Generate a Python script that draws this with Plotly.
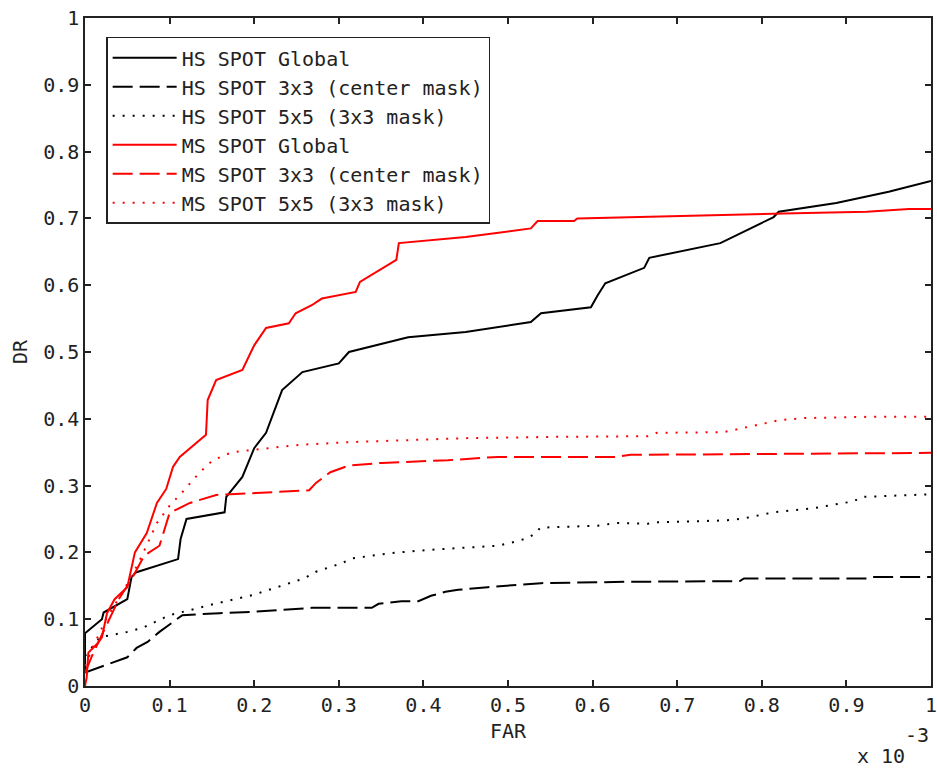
import plotly.graph_objects as go

# FAR is given in units of 1e-3, DR is a fraction.
hs_global_far = [0, 0, 0.02, 0.022, 0.05, 0.055, 0.06, 0.08, 0.11, 0.113, 0.12, 0.165, 0.167,
                 0.186, 0.2, 0.214, 0.233, 0.257, 0.3, 0.312, 0.382, 0.45, 0.527, 0.539, 0.598,
                 0.606, 0.615, 0.661, 0.667, 0.751, 0.814, 0.82, 0.888, 0.95, 1.0]
hs_global_dr = [0.02, 0.079, 0.1, 0.11, 0.13, 0.163, 0.17, 0.178, 0.19, 0.22, 0.25, 0.26, 0.283,
                0.313, 0.356, 0.379, 0.443, 0.47, 0.483, 0.5, 0.522, 0.53, 0.545, 0.558, 0.567,
                0.585, 0.603, 0.626, 0.641, 0.663, 0.702, 0.71, 0.723, 0.74, 0.756]

hs_3x3_far = [0, 0.03, 0.05, 0.061, 0.074, 0.088, 0.104, 0.115, 0.159, 0.198, 0.268, 0.339,
              0.347, 0.374, 0.394, 0.409, 0.426, 0.441, 0.476, 0.508, 0.539, 0.641, 0.774,
              0.779, 0.924, 0.927, 1.0]
hs_3x3_dr = [0.02, 0.034, 0.043, 0.057, 0.066, 0.081, 0.096, 0.106, 0.109, 0.111, 0.117, 0.117,
             0.123, 0.127, 0.127, 0.135, 0.141, 0.144, 0.148, 0.151, 0.154, 0.156, 0.157,
             0.161, 0.161, 0.163, 0.163]

hs_5x5_far = [0, 0.018, 0.05, 0.068, 0.1, 0.147, 0.198, 0.259, 0.273, 0.304, 0.315, 0.362,
              0.409, 0.455, 0.488, 0.512, 0.524, 0.533, 0.538, 0.606, 0.629, 0.665, 0.676,
              0.759, 0.779, 0.814, 0.861, 0.896, 0.908, 0.918, 1.0]
hs_5x5_dr = [0.045, 0.073, 0.081, 0.087, 0.106, 0.121, 0.136, 0.161, 0.171, 0.184, 0.191, 0.199,
             0.204, 0.208, 0.21, 0.217, 0.222, 0.229, 0.237, 0.24, 0.244, 0.243, 0.245,
             0.248, 0.251, 0.26, 0.266, 0.274, 0.276, 0.283, 0.287]

ms_global_far = [0, 0.002, 0.004, 0.015, 0.02, 0.026, 0.035, 0.05, 0.059, 0.073, 0.085, 0.096,
                 0.104, 0.112, 0.143, 0.145, 0.155, 0.186, 0.2, 0.214, 0.241, 0.249, 0.268,
                 0.28, 0.32, 0.325, 0.368, 0.371, 0.45, 0.527, 0.535, 0.578, 0.582, 0.673,
                 0.762, 0.853, 0.924, 0.974, 1.0]
ms_global_dr = [0.0, 0.013, 0.05, 0.064, 0.073, 0.109, 0.13, 0.148, 0.2, 0.229, 0.274, 0.295,
                0.328, 0.343, 0.376, 0.428, 0.458, 0.473, 0.51, 0.536, 0.543, 0.558, 0.57,
                0.58, 0.59, 0.605, 0.638, 0.663, 0.672, 0.685, 0.696, 0.696, 0.7, 0.703,
                0.705, 0.708, 0.71, 0.714, 0.714]

ms_3x3_far = [0, 0.01, 0.025, 0.04, 0.055, 0.07, 0.088, 0.1, 0.124, 0.155, 0.202, 0.253, 0.265,
              0.273, 0.29, 0.312, 0.351, 0.429, 0.488, 0.626, 0.645, 1.0]
ms_3x3_dr = [0.02, 0.05, 0.09, 0.13, 0.16, 0.195, 0.21, 0.259, 0.274, 0.286, 0.289, 0.293, 0.293,
             0.304, 0.32, 0.33, 0.334, 0.338, 0.343, 0.343, 0.346, 0.349]

ms_5x5_far = [0, 0.01, 0.025, 0.041, 0.053, 0.065, 0.085, 0.1, 0.115, 0.135, 0.151, 0.174,
              0.214, 0.253, 0.312, 0.449, 0.559, 0.665, 0.676, 0.755, 0.821, 0.849, 0.927, 1.0]
ms_5x5_dr = [0.03, 0.06, 0.1, 0.133, 0.159, 0.189, 0.244, 0.27, 0.29, 0.319, 0.338, 0.35,
             0.356, 0.361, 0.365, 0.371, 0.373, 0.374, 0.379, 0.38, 0.398, 0.401, 0.403, 0.403]

tick_vals = [i / 10 for i in range(11)]
tick_text = ["0", "0.1", "0.2", "0.3", "0.4", "0.5", "0.6", "0.7", "0.8", "0.9", "1"]

FONT = "DejaVu Sans Mono"
INK = "#222"
DASH = "20px,7px"
DOT = "2px,8px"

series = [
    ("HS SPOT Global", hs_global_far, hs_global_dr, "black", "solid"),
    ("HS SPOT 3x3 (center mask)", hs_3x3_far, hs_3x3_dr, "black", DASH),
    ("HS SPOT 5x5 (3x3 mask)", hs_5x5_far, hs_5x5_dr, "black", DOT),
    ("MS SPOT Global", ms_global_far, ms_global_dr, "red", "solid"),
    ("MS SPOT 3x3 (center mask)", ms_3x3_far, ms_3x3_dr, "red", DASH),
    ("MS SPOT 5x5 (3x3 mask)", ms_5x5_far, ms_5x5_dr, "red", DOT),
]

fig = go.Figure()
for name, xs, ys, color, dash in series:
    fig.add_trace(go.Scatter(x=xs, y=ys, name=name, mode="lines",
                             line=dict(color=color, width=2, dash=dash)))

axis_common = dict(
    range=[0, 1], tickvals=tick_vals, ticktext=tick_text,
    ticks="inside", ticklen=6, tickwidth=1.5, tickcolor=INK,
    showline=True, linecolor=INK, linewidth=1.5, mirror="ticks",
    showgrid=False, zeroline=False, ticklabeloverflow="allow",
    automargin=False,
    tickfont=dict(family=FONT, size=20, color=INK),
)

fig.update_layout(
    width=937, height=768,
    margin=dict(l=85, r=6, t=18, b=82, autoexpand=False),
    paper_bgcolor="white", plot_bgcolor="white",
    font=dict(family=FONT, size=20, color=INK),
    xaxis=dict(**axis_common, title=dict(text="FAR", standoff=8,
                                         font=dict(family=FONT, size=20))),
    yaxis=dict(**axis_common, title=dict(text="DR", standoff=10,
                                         font=dict(family=FONT, size=20))),
    legend=dict(x=0.025, y=0.972, xanchor="left", yanchor="top",
                bgcolor="white", bordercolor=INK, borderwidth=1.5,
                font=dict(family=FONT, size=20, color=INK),
                itemwidth=64, tracegroupgap=0),
    showlegend=True,
)

# exponent of the FAR axis
fig.add_annotation(xref="paper", yref="paper", x=0.972, y=-0.105, xanchor="right",
                   yanchor="middle", text="x 10", showarrow=False,
                   font=dict(family=FONT, size=20, color=INK))
fig.add_annotation(xref="paper", yref="paper", x=1.0, y=-0.073, xanchor="right",
                   yanchor="middle", text="-3", showarrow=False,
                   font=dict(family=FONT, size=20, color=INK))

fig.write_html("out.html")
